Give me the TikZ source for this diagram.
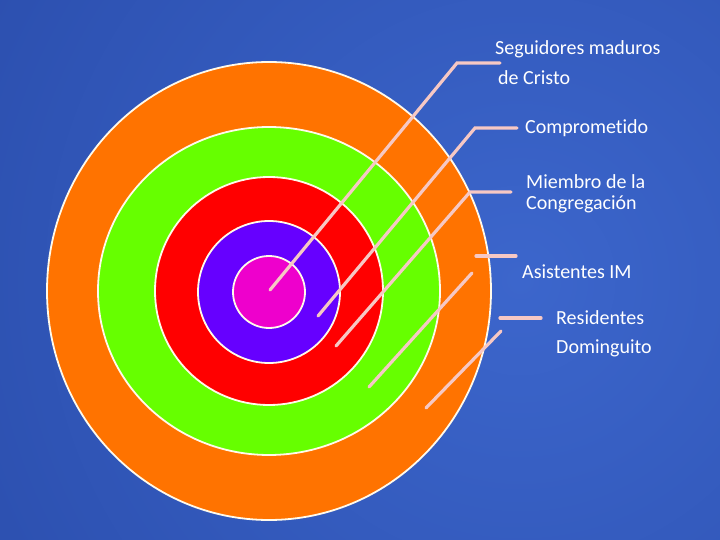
\documentclass[tikz,border=0pt]{standalone}
\usepackage{fontspec}
\setmainfont[Ligatures={NoCommon}]{Carlito}
\usetikzlibrary{positioning}

\definecolor{bgin}{RGB}{60,102,204}
\definecolor{bgout}{RGB}{40,74,168}
\definecolor{ringorange}{RGB}{255,115,0}
\definecolor{ringgreen}{RGB}{102,255,0}
\definecolor{ringred}{RGB}{255,0,0}
\definecolor{ringpurple}{RGB}{102,0,255}
\definecolor{ringmagenta}{RGB}{238,0,204}
\definecolor{leader}{RGB}{246,200,196}
\definecolor{rim}{RGB}{255,250,235}

\begin{document}
\begin{tikzpicture}[x=1pt,y=-1pt,line cap=round]
  \tikzstyle{ring}=[draw=rim,line width=1.8pt]
  \tikzstyle{tag}=[text=white,font=\fontsize{20}{22}\selectfont,anchor=west,inner sep=0pt]
  \tikzstyle{lead}=[draw=leader,line width=3.2pt]

  % background
  \useasboundingbox (0,0) rectangle (720,540);
  \fill[bgout] (0,0) rectangle (720,540);
  \begin{scope}
    \clip (0,0) rectangle (720,540);
    \shade[inner color=bgin,outer color=bgout] (520,280) circle (760);
  \end{scope}

  % rings
  \draw[ring,fill=ringorange]  (269,291) ellipse (222 and 229);
  \draw[ring,fill=ringgreen]   (269,291) ellipse (171 and 164);
  \draw[ring,fill=ringred]     (269,291) circle (114);
  \draw[ring,fill=ringpurple]  (269,292) circle (71);
  \draw[ring,fill=ringmagenta] (269,292) circle (36);

  % labels
  \node[tag] (seg)  at (495,49)  {Seguidores maduros};
  \node[tag] (cri)  at (498,78)  {de Cristo};
  \node[tag] (com)  at (525,128) {Comprometido};
  \node[tag] (mie)  at (526,182) {Miembro de la};
  \node[tag] (con)  at (526,204) {Congregación};
  \node[tag] (asi)  at (522,272) {Asistentes IM};
  \node[tag] (res)  at (556,318) {Residentes};
  \node[tag] (dom)  at (556,348) {Dominguito};

  % leader lines
  \coordinate (segA) at (500,63);  \coordinate (segB) at (457,63);  \coordinate (segC) at (270,290);
  \coordinate (comA) at (517,128); \coordinate (comB) at (475,128); \coordinate (comC) at (318,316);
  \coordinate (mieA) at (511,192); \coordinate (mieB) at (470,192); \coordinate (mieC) at (336,346);
  \coordinate (asiA) at (516,256); \coordinate (asiB) at (476,256);
  \coordinate (asiC) at (472,273); \coordinate (asiD) at (369,387);
  \coordinate (resA) at (541,318); \coordinate (resB) at (500,318);
  \coordinate (resC) at (501,331); \coordinate (resD) at (426,408);

  \draw[lead] (segA) -- (segB) -- (segC);
  \draw[lead] (comA) -- (comB) -- (comC);
  \draw[lead] (mieA) -- (mieB) -- (mieC);
  \draw[lead] (asiA) -- (asiB);
  \draw[lead] (asiC) -- (asiD);
  \draw[lead] (resA) -- (resB);
  \draw[lead] (resC) -- (resD);
\end{tikzpicture}
\end{document}
